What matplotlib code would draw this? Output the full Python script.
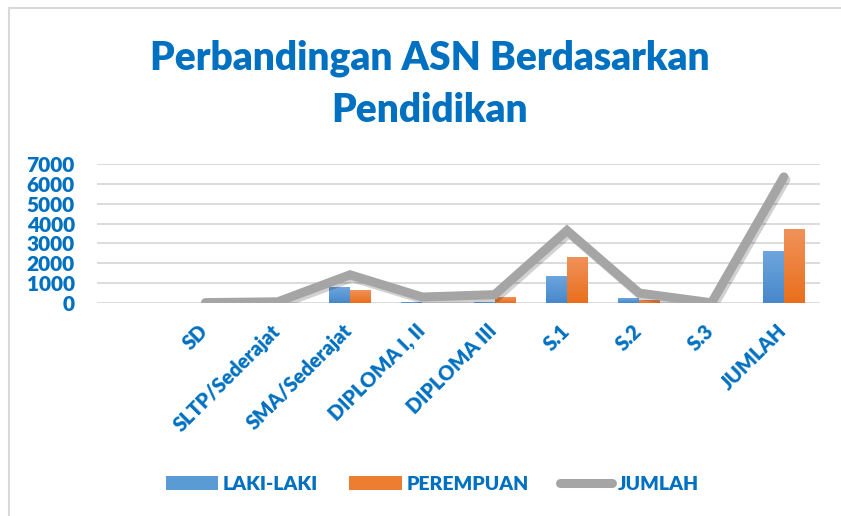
import matplotlib
matplotlib.use('Agg')
import matplotlib.pyplot as plt
import matplotlib.patheffects as pe
import matplotlib.transforms as mtransforms
from matplotlib.patches import Patch
from matplotlib.lines import Line2D
import numpy as np

# data
kategori = ['SD', 'SLTP/Sederajat', 'SMA/Sederajat', 'DIPLOMA I, II', 'DIPLOMA III',
            'S.1', 'S.2', 'S.3', 'JUMLAH']
laki = [5, 20, 800, 30, 50, 1380, 250, 5, 2620]
perempuan = [5, 20, 650, 25, 300, 2320, 150, 5, 3730]
jumlah = [20, 60, 1420, 300, 420, 3650, 500, 10, 6350]

biru_teks = '#0070C0'
font = 'Lato'
tebal = 'heavy'

fig = plt.figure(figsize=(8.41, 5.16), dpi=100)
ax = fig.add_axes([97/841, 1-303/516, (820-97)/841, (303-164)/516])

x = np.arange(len(kategori))
w = 0.29


def bar_gradien(xs, vals, top_col, bot_col):
    grad = np.linspace(0, 1, 64).reshape(-1, 1)
    c1 = np.array(matplotlib.colors.to_rgb(top_col))
    c2 = np.array(matplotlib.colors.to_rgb(bot_col))
    img = c1[None, None, :] * (1 - grad[:, :, None]) + c2[None, None, :] * grad[:, :, None]
    bars = ax.bar(xs, vals, width=w, color=bot_col, zorder=2)
    for b in bars:
        bx, by = b.get_x(), b.get_y()
        bw, bh = b.get_width(), b.get_height()
        if bh <= 0:
            continue
        im = ax.imshow(img, extent=[bx, bx + bw, by, by + bh], aspect='auto',
                       origin='upper', zorder=2.5)
        im.set_clip_path(b)
    return bars


bar_gradien(x - w/2, laki, '#6EA6DD', '#4788CB')
bar_gradien(x + w/2, perempuan, '#F1925A', '#E96F1D')

ax.plot(x, jumlah, color='#A5A5A5', lw=6.5, solid_joinstyle='miter',
        solid_capstyle='round', zorder=4,
        path_effects=[pe.SimpleLineShadow(offset=(1.5, -2), shadow_color='k', alpha=0.18),
                      pe.Normal()])

ax.set_xlim(-1.5, 8.5)
ax.set_ylim(0, 7000)
ax.set_yticks(np.arange(0, 7001, 1000))
ax.grid(axis='y', color='#D9D9D9', lw=1.3, zorder=0)
ax.set_axisbelow(True)
for s in ax.spines.values():
    s.set_visible(False)

ax.tick_params(axis='y', length=0, pad=16, labelcolor=biru_teks)
ax.tick_params(axis='x', length=0, pad=13, labelcolor=biru_teks)
for t in ax.get_yticklabels():
    t.set_fontfamily(font)
    t.set_fontweight(tebal)
    t.set_fontsize(15)

ax.set_xticks(x)
ax.set_xticklabels(kategori, rotation=45, ha='right', fontsize=14.5,
                   fontweight=tebal, fontfamily=font)
geser = mtransforms.ScaledTranslation(6/100, 0, fig.dpi_scale_trans)
for t in ax.get_xticklabels():
    t.set_transform(t.get_transform() + geser)

fig.text(430/841, 1-84/516, 'Perbandingan ASN Berdasarkan\nPendidikan',
         ha='center', va='center', fontsize=28, fontweight=tebal,
         color=biru_teks, fontfamily=font, linespacing=1.5)

handles = [Patch(facecolor='#5B9BD5', edgecolor='none'),
           Patch(facecolor='#ED7D31', edgecolor='none'),
           Line2D([0], [0], color='#A5A5A5', lw=6.5, solid_capstyle='round')]
leg = fig.legend(handles, ['LAKI-LAKI', 'PEREMPUAN', 'JUMLAH'], loc='center',
                 bbox_to_anchor=(432/841, 1-484/516), ncol=3, frameon=False,
                 handlelength=2.7, handletextpad=0.25, columnspacing=1.6,
                 prop={'family': font, 'weight': tebal, 'size': 14})
for t in leg.get_texts():
    t.set_color(biru_teks)

# frame of the chart area (only top and left visible)
fig.add_artist(Line2D([8.5/841, 8.5/841], [0, 1-7.5/516], color='#D9D9D9', lw=1.5,
                      transform=fig.transFigure))
fig.add_artist(Line2D([8.5/841, 1], [1-7.5/516, 1-7.5/516], color='#D9D9D9', lw=1.5,
                      transform=fig.transFigure))

fig.savefig('out.png', dpi=100)
